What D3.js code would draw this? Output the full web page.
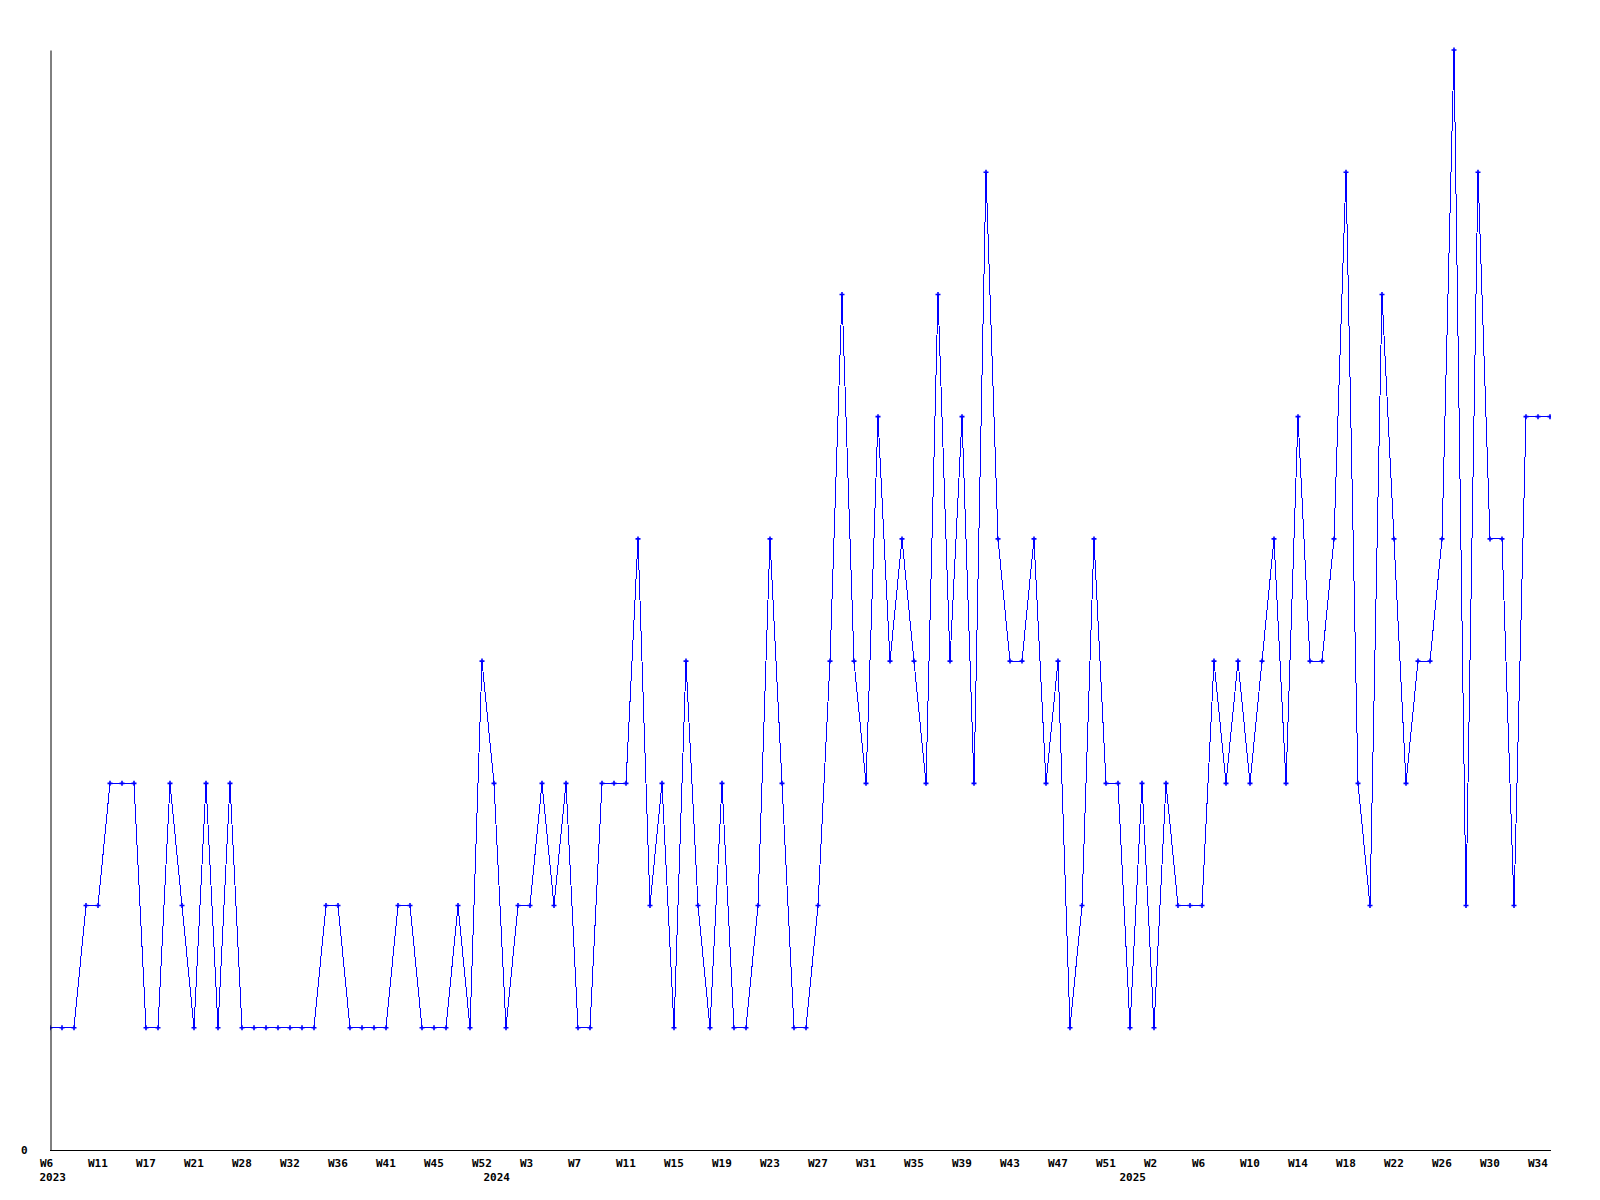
<!DOCTYPE html>
<html>
<head>
<meta charset="utf-8">
<script src="https://cdn.jsdelivr.net/npm/d3@7"></script>
<style>
  html, body { margin: 0; padding: 0; background: #ffffff; }
  svg { display: block; }
  .lbl { font-family: "DejaVu Sans Mono", monospace; font-weight: bold; font-size: 11px; fill: #000; }
</style>
</head>
<body>
<svg id="chart" width="1600" height="1200"></svg>
<script>
// ---- data ----
const weeks2023 = ["W6","W7","W9","W10","W11","W13","W14","W16","W17","W18","W19","W20","W21","W23","W25","W27","W28","W29","W30","W31","W32","W33","W34","W35","W36","W37","W39","W40","W41","W42","W43","W44","W45","W47","W49","W51","W52"];
const weeks2024 = ["W0","W1","W2","W3","W4","W5","W6","W7","W8","W9","W10","W11","W12","W13","W14","W15","W16","W17","W18","W19","W20","W21","W22","W23","W24","W25","W26","W27","W28","W29","W30","W31","W32","W33","W34","W35","W36","W37","W38","W39","W40","W41","W42","W43","W44","W45","W46","W47","W48","W49","W50","W51","W52"];
const weeks2025 = ["W0","W1","W2","W3","W4","W5","W6","W7","W8","W9","W10","W11","W12","W13","W14","W15","W16","W17","W18","W19","W20","W21","W22","W23","W24","W25","W26","W27","W28","W29","W30","W31","W32","W33","W34","W35"];
const years = ["2023", "2024", "2025"];

const values = [
  1,1,1,2,2,3,3,3,1,1,
  3,2,1,3,1,3,1,1,1,1,
  1,1,1,2,2,1,1,1,1,2,
  2,1,1,1,2,1,4,3,1,2,
  2,3,2,3,1,1,3,3,3,5,
  2,3,1,4,2,1,3,1,1,2,
  5,3,1,1,2,4,7,4,3,6,
  4,5,4,3,7,4,6,3,8,5,
  4,4,5,3,4,1,2,5,3,3,
  1,3,1,3,2,2,2,4,3,4,
  3,4,5,3,6,4,4,5,8,3,
  2,7,5,3,4,4,5,9,2,8,
  5,5,2,6,6,6
];

const tickLabels = ["2023-W6","2023-W11","2023-W17","2023-W21","2023-W28","2023-W32","2023-W36","2023-W41","2023-W45","2023-W52",
  "2024-W3","2024-W7","2024-W11","2024-W15","2024-W19","2024-W23","2024-W27","2024-W31","2024-W35","2024-W39","2024-W43","2024-W47","2024-W51",
  "2025-W2","2025-W6","2025-W10","2025-W14","2025-W18","2025-W22","2025-W26","2025-W30","2025-W34"];
const yearStarts = ["2023-W6", "2024-W0", "2025-W0"];

const categories = [
  ...weeks2023.map(w => "2023-" + w),
  ...weeks2024.map(w => "2024-" + w),
  ...weeks2025.map(w => "2025-" + w)
];
const data = categories.map((c, i) => ({ key: c, value: values[i] }));

// ---- layout ----
const mLeft = 50, mRight = 1550, mTop = 50, mBottom = 1150;
const svg = d3.select("#chart");

const x = d3.scalePoint().domain(categories).range([mLeft, mRight]);
const y = d3.scaleLinear().domain([0, 9]).range([mBottom, mTop]);

svg.append("defs").append("clipPath").attr("id", "plotclip")
  .append("rect").attr("x", mLeft).attr("y", mTop - 10).attr("width", mRight - mLeft + 1).attr("height", mBottom - mTop + 11);

// line
const line = d3.line().x(d => x(d.key)).y(d => y(d.value));
const plot = svg.append("g").attr("clip-path", "url(#plotclip)");
plot.append("path")
  .datum(data)
  .attr("d", line)
  .attr("fill", "none")
  .attr("stroke", "#0000ff")
  .attr("stroke-width", 1)
  .attr("shape-rendering", "crispEdges");

// markers
plot.selectAll("path.mk")
  .data(data)
  .join("path")
  .attr("class", "mk")
  .attr("d", d => {
    const cx = x(d.key), cy = y(d.value);
    return `M${cx - 2.5},${cy}H${cx + 2.5}M${cx},${cy - 2.5}V${cy + 2.5}`;
  })
  .attr("stroke", "#0000ff")
  .attr("stroke-width", 1.6)
  .attr("fill", "none");

// y axis
const yAxis = svg.append("g")
  .attr("transform", `translate(${mLeft + 0.5},0)`)
  .call(d3.axisLeft(y).tickValues([0]).tickSize(0).tickSizeOuter(0).tickPadding(23).tickFormat(d3.format("d")));
yAxis.select(".domain").attr("stroke", "#000").attr("stroke-width", 1);
yAxis.selectAll("text").attr("class", "lbl").attr("font-family", null).attr("font-size", null).attr("dy", "0.35em");

// x axis
const xAxis = svg.append("g")
  .attr("transform", `translate(0,${mBottom + 0.5})`)
  .call(d3.axisBottom(x).tickValues(tickLabels).tickSize(0).tickSizeOuter(0).tickPadding(0)
    .tickFormat(d => d.split("-")[1]));
xAxis.select(".domain").attr("d", `M${mLeft},0H${mRight + 1}`).attr("stroke", "#000").attr("stroke-width", 1);
xAxis.selectAll("text")
  .attr("class", "lbl")
  .attr("font-family", null).attr("font-size", null)
  .attr("text-anchor", "start")
  .attr("dx", -10.5)
  .attr("y", 16.5)
  .attr("dy", 0);

// year labels
svg.append("g").selectAll("text")
  .data(yearStarts)
  .join("text")
  .attr("class", "lbl")
  .attr("x", d => x(d) - 10.5)
  .attr("y", mBottom + 31)
  .attr("text-anchor", "start")
  .text((d, i) => years[i]);
</script>
</body>
</html>
